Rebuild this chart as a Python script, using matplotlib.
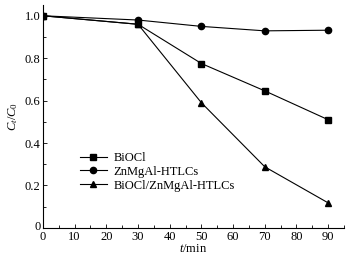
import matplotlib
matplotlib.use("Agg")
import matplotlib.pyplot as plt
from matplotlib.ticker import MultipleLocator

plt.rcParams['font.family'] = ['Liberation Serif', 'DejaVu Serif']
plt.rcParams['mathtext.fontset'] = 'custom'
plt.rcParams['mathtext.rm'] = 'Liberation Serif'
plt.rcParams['mathtext.it'] = 'Liberation Serif:italic'

t = [0, 30, 50, 70, 90]
biocl = [1.0, 0.96, 0.775, 0.646, 0.51]
znmgal = [1.0, 0.98, 0.95, 0.929, 0.932]
composite = [1.0, 0.96, 0.59, 0.288, 0.118]
names = ["BiOCl", "ZnMgAl-HTLCs", "BiOCl/ZnMgAl-HTLCs"]

fs = 9
fig = plt.figure(figsize=(3.61, 2.59), dpi=100)
ax = fig.add_axes([0.119, 0.12, 0.834, 0.86])
ax.plot(t, biocl, '-s', color='black', lw=0.8, ms=4, label=names[0])
ax.plot(t, znmgal, '-o', color='black', lw=0.8, ms=4.5, label=names[1])
ax.plot(t, composite, '-^', color='black', lw=0.8, ms=5, label=names[2])

ax.set_xlim(0, 95)
ax.set_ylim(0, 1.05)
ax.xaxis.set_major_locator(MultipleLocator(10))
ax.xaxis.set_minor_locator(MultipleLocator(5))
ax.yaxis.set_minor_locator(MultipleLocator(0.1))
ax.set_yticks([0.2, 0.4, 0.6, 0.8, 1.0])
ax.set_yticklabels(['0.2', '0.4', '0.6', '0.8', '1.0'])
ax.text(-0.8, 0.005, '0', ha='right', va='center', fontsize=fs)
ax.tick_params(which='both', direction='in', labelsize=fs, width=0.6, pad=2)
ax.tick_params(which='major', length=3)
ax.tick_params(which='minor', length=2)
for s in ['top', 'right']:
    ax.spines[s].set_visible(False)
for s in ['left', 'bottom']:
    ax.spines[s].set_linewidth(0.8)
ax.set_xlabel('$t$/min', fontsize=fs, labelpad=0)
ax.set_ylabel('$C_t/C_0$', fontsize=fs, labelpad=3)
ax.legend(loc='lower left', bbox_to_anchor=(0.105, 0.14), frameon=False, fontsize=fs,
          handlelength=2.2, handletextpad=0.5, labelspacing=0.15, borderaxespad=0)
fig.savefig('out.png', dpi=100)
